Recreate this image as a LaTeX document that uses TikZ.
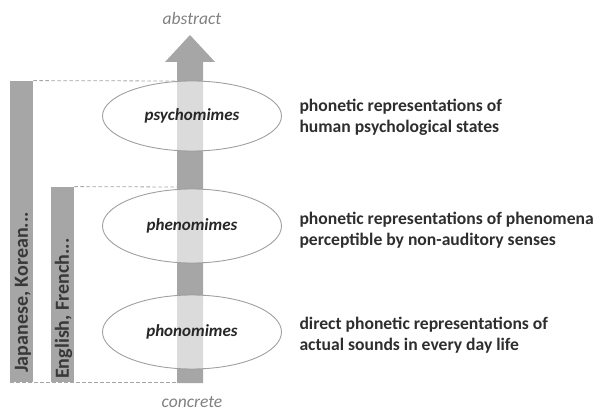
\documentclass[tikz,border=0pt]{standalone}
\usepackage{fontspec}
\setmainfont{Carlito}
\usetikzlibrary{shapes.geometric}
\definecolor{barg}{HTML}{A6A6A6}
\definecolor{ellg}{HTML}{A0A0A0}
\begin{document}
\begin{tikzpicture}[x=1pt,y=-1pt,
  bar/.style={fill=barg,draw=none,inner sep=0pt,anchor=south west},
  ell/.style={ellipse,draw=ellg,line width=0.9pt,fill=white,fill opacity=0.6,text opacity=1,minimum width=179pt,minimum height=70pt,font=\fontsize{17}{20}\selectfont\bfseries\itshape,text=black!85},
  desc/.style={anchor=west,align=left,font=\fontsize{17.6}{21}\selectfont\bfseries,text=black!82},
  barlabel/.style={rotate=90,anchor=west,inner sep=0pt,font=\fontsize{20}{22}\selectfont\bfseries,text=black!78},
  dashline/.style={draw=gray!70,line width=0.8pt,dash pattern=on 3.5pt off 2.5pt},
  pole/.style={font=\fontsize{17.5}{20}\selectfont\itshape,text=gray}]
\useasboundingbox (0,0) rectangle (598,412);
% arrow
\fill[barg] (177,383) -- (203,383) -- (203,62) -- (215,62) -- (190,35) -- (165,62) -- (177,62) -- cycle;
% bars
\node[bar,minimum width=23pt,minimum height=301pt] (jk) at (10,382) {};
\node[bar,minimum width=23pt,minimum height=195pt] (ef) at (51,382) {};
\node[barlabel] (jkt) at (23,373) {Japanese, Korean...};
\node[barlabel] (eft) at (63.5,379) {English, French...};
\coordinate (d1) at (177,81);
\coordinate (d2) at (177,187);
\coordinate (d3) at (195,382);
\draw[dashline] (jk.north east) -- (d1);
\draw[dashline] (ef.north east) -- (d2);
\draw[dashline] (jk.south west) -- (d3);
% ellipses
\node[ell] (psy) at (192,116) {psychomimes};
\node[ell,minimum height=74pt] (phe) at (192,226) {phenomimes};
\node[ell,minimum height=74pt] (pho) at (192,332) {phonomimes};
% poles
\node[pole] (abs) at (192,18) {abstract};
\node[pole] (con) at (192,402) {concrete};
% descriptions
\node[desc] (t1) at (296,117) {phonetic representations of\\human psychological states};
\node[desc] (t2) at (296,230) {phonetic representations of phenomena\\perceptible by non-auditory senses};
\node[desc] (t3) at (296,335) {direct phonetic representations of\\actual sounds in every day life};
\end{tikzpicture}
\end{document}
